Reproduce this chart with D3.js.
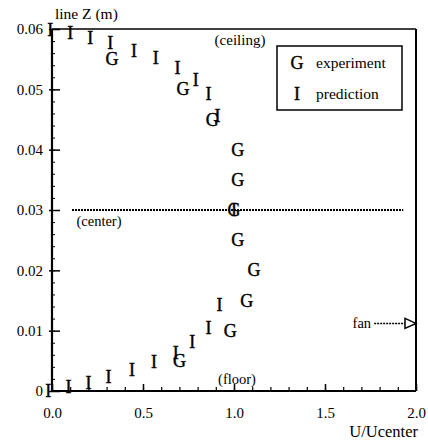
<!DOCTYPE html>
<html>
<head>
<meta charset="utf-8">
<script src="https://cdn.jsdelivr.net/npm/d3@7"></script>
<style>
  html, body { margin: 0; padding: 0; background: #fff; }
  svg { display: block; }
  text { font-family: "Liberation Serif", "DejaVu Serif", serif; fill: #000; }
</style>
</head>
<body>
<svg id="chart" width="428" height="440"></svg>
<script>
// ---- data ----
const predictionX = [-0.01, 0.10, 0.21, 0.32, 0.45, 0.57, 0.69, 0.79, 0.86, 0.91, 1.0, 0.92, 0.86, 0.77, 0.68, 0.56, 0.44, 0.31, 0.20, 0.09, -0.02];
const predictionZ = [0.0598, 0.0593, 0.0585, 0.0577, 0.0564, 0.0552, 0.0535, 0.0515, 0.0492, 0.0456, 0.0300, 0.0143, 0.0104, 0.0081, 0.0063, 0.0048, 0.0035, 0.0023, 0.0013, 0.0007, 0.0001];
const experimentX = [0.33, 0.72, 0.88, 1.02, 1.02, 1.00, 1.02, 1.11, 1.07, 0.98, 0.70];
const experimentZ = [0.055, 0.050, 0.045, 0.040, 0.035, 0.030, 0.025, 0.020, 0.015, 0.010, 0.005];
const xTickValues = [0, 0.5, 1.0, 1.5, 2.0];
const xTickLabels = ["0.0", "0.5", "1.0", "1.5", "2.0"];
const yTickValues = [0, 0.01, 0.02, 0.03, 0.04, 0.05, 0.06];
const yTickLabels = ["0", "0.01", "0.02", "0.03", "0.04", "0.05", "0.06"];
const legendSymbols = ["G", "I"];
const legendLabels = ["experiment", "prediction"];
const centerZ = 0.03;
const centerLineX = [0.11, 1.93];
const fanZ = 0.0112;
const fanX = [1.77, 2.0];

// ---- layout ----
const svg = d3.select("#chart");
const x = d3.scaleLinear().domain([0, 2]).range([52, 416]);
const y = d3.scaleLinear().domain([0, 0.06]).range([391, 29]);

svg.append("rect").attr("width", 428).attr("height", 440).attr("fill", "#fff");

// x axis major
const xAxis = svg.append("g").attr("transform", `translate(0,${y(0)})`)
  .call(d3.axisBottom(x).tickValues(xTickValues)
    .tickFormat((d, i) => xTickLabels[i]).tickSize(-7).tickPadding(16));
xAxis.select(".domain").remove();
xAxis.selectAll("line").attr("stroke", "#000").attr("stroke-width", 1.5);
xAxis.selectAll("text").attr("font-size", 15).style("font-family", "Liberation Serif");

// x axis minor
const xMinor = svg.append("g").attr("transform", `translate(0,${y(0)})`)
  .call(d3.axisBottom(x).tickValues(d3.range(0, 21).map(i => i / 10))
    .tickFormat("").tickSize(-4));
xMinor.select(".domain").remove();
xMinor.selectAll("line").attr("stroke", "#000").attr("stroke-width", 1.2);

// y axis major
const yAxis = svg.append("g").attr("transform", `translate(${x(0)},0)`)
  .call(d3.axisLeft(y).tickValues(yTickValues)
    .tickFormat((d, i) => yTickLabels[i]).tickSize(-8).tickPadding(9));
yAxis.select(".domain").remove();
yAxis.selectAll("line").attr("stroke", "#000").attr("stroke-width", 1.5).attr("x1", -3);
yAxis.selectAll("text").attr("font-size", 15).style("font-family", "Liberation Serif");

// y axis minor
const yMinor = svg.append("g").attr("transform", `translate(${x(0)},0)`)
  .call(d3.axisLeft(y).tickValues(d3.range(0, 31).map(i => i * 0.002))
    .tickFormat("").tickSize(-3));
yMinor.select(".domain").remove();
yMinor.selectAll("line").attr("stroke", "#000").attr("stroke-width", 1);

// frame
svg.append("line").attr("x1", x(0)).attr("x2", x(2)).attr("y1", y(0.06)).attr("y2", y(0.06))
  .attr("stroke", "#000").attr("stroke-width", 1.5);
svg.append("line").attr("x1", x(2)).attr("x2", x(2)).attr("y1", y(0.06)).attr("y2", y(0))
  .attr("stroke", "#000").attr("stroke-width", 2);
svg.append("line").attr("x1", x(0)).attr("x2", x(0)).attr("y1", y(0.06)).attr("y2", y(0))
  .attr("stroke", "#000").attr("stroke-width", 2.2);
svg.append("line").attr("x1", x(0)).attr("x2", x(2)).attr("y1", y(0)).attr("y2", y(0))
  .attr("stroke", "#000").attr("stroke-width", 2.2);

// center dotted line
svg.append("line").attr("x1", x(centerLineX[0])).attr("x2", x(centerLineX[1]))
  .attr("y1", y(centerZ)).attr("y2", y(centerZ))
  .attr("stroke", "#000").attr("stroke-width", 2).attr("stroke-dasharray", "2,1");

// fan arrow
const fy = y(fanZ);
svg.append("line").attr("x1", x(fanX[0])).attr("x2", x(fanX[1]) - 11)
  .attr("y1", fy).attr("y2", fy).attr("stroke", "#000").attr("stroke-width", 1.5)
  .attr("stroke-dasharray", "2,1");
svg.append("path")
  .attr("d", `M${x(fanX[1]) - 11},${fy - 5} L${x(fanX[1])},${fy} L${x(fanX[1]) - 11},${fy + 5} Z`)
  .attr("fill", "#fff").attr("stroke", "#000").attr("stroke-width", 1.5);
svg.append("text").attr("x", x(fanX[0]) - 3).attr("y", fy + 5).attr("text-anchor", "end")
  .attr("font-size", 14.5).text("fan");

// annotations
svg.append("text").attr("x", 55).attr("y", 19).attr("font-size", 15.5).text("line Z (m)");
svg.append("text").attr("x", 240).attr("y", 45).attr("text-anchor", "middle").attr("font-size", 15).text("(ceiling)");
svg.append("text").attr("x", 99).attr("y", 226).attr("text-anchor", "middle").attr("font-size", 14.5).text("(center)");
svg.append("text").attr("x", 237).attr("y", 384).attr("text-anchor", "middle").attr("font-size", 14.5).text("(floor)");
svg.append("text").attr("x", 418).attr("y", 437).attr("text-anchor", "end").attr("font-size", 16.5).text("U/Ucenter");

// markers
svg.append("g").selectAll("text").data(predictionX).join("text")
  .attr("x", d => x(d)).attr("y", (d, i) => y(predictionZ[i])).attr("dy", "0.34em")
  .attr("text-anchor", "middle").attr("font-size", 18)
  .attr("stroke", "#000").attr("stroke-width", 0.4).text("I");
svg.append("g").selectAll("text").data(experimentX).join("text")
  .attr("x", d => x(d)).attr("y", (d, i) => y(experimentZ[i])).attr("dy", "0.34em")
  .attr("text-anchor", "middle").attr("font-size", 18)
  .attr("stroke", "#000").attr("stroke-width", 0.4).text("G");

// legend
const lg = svg.append("g");
lg.append("rect").attr("x", 277).attr("y", 46).attr("width", 125).attr("height", 64)
  .attr("fill", "#fff").attr("stroke", "#000").attr("stroke-width", 1.5);
legendSymbols.forEach((s, i) => {
  const cy = 63 + i * 31;
  lg.append("text").attr("x", 297).attr("y", cy).attr("dy", "0.34em").attr("text-anchor", "middle")
    .attr("font-size", 18).attr("stroke", "#000").attr("stroke-width", 0.4).text(s);
  lg.append("text").attr("x", 316).attr("y", cy).attr("dy", "0.34em")
    .attr("font-size", 15.5).text(legendLabels[i]);
});
</script>
</body>
</html>
